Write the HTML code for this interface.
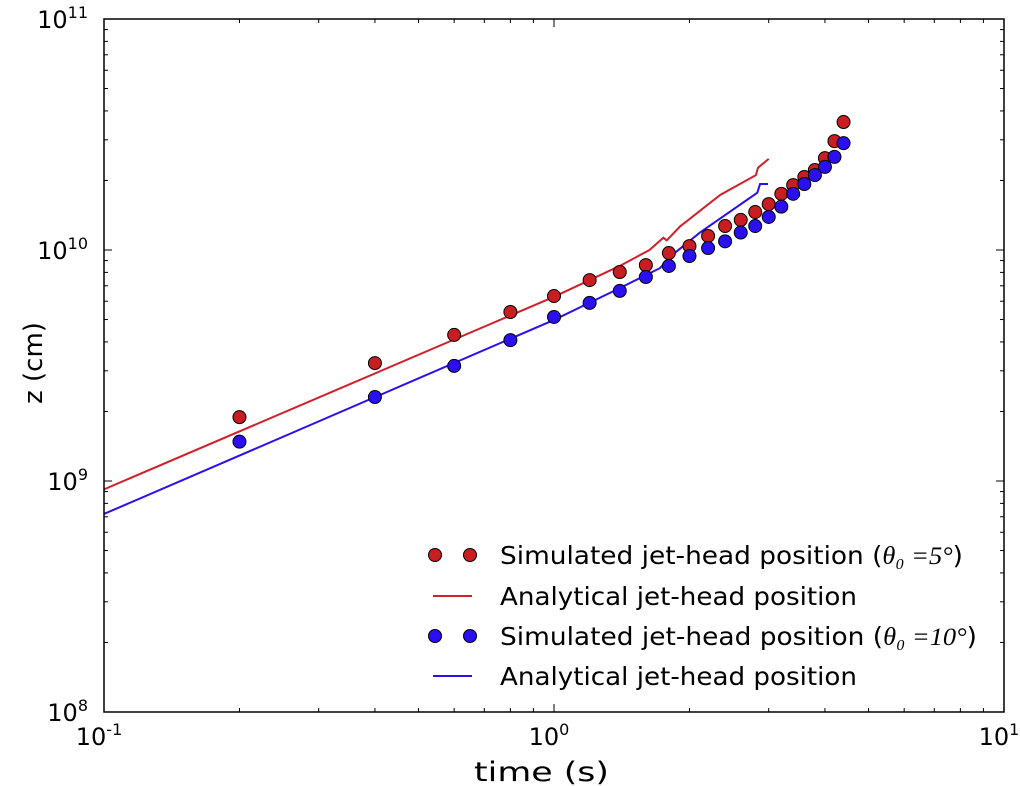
<!DOCTYPE html>
<html><head><meta charset="utf-8"><style>
body{margin:0;background:#fff}
svg{display:block;font-family:"DejaVu Sans","Liberation Sans",sans-serif}
</style></head><body>
<svg id="chart" width="1020" height="786" viewBox="0 0 1020 786" xmlns="http://www.w3.org/2000/svg"></svg>
<script>
const simT=[0.2,0.4,0.6,0.8,1.0,1.2,1.4,1.6,1.8,2.0,2.2,2.4,2.6,2.8,3.0,3.2,3.4,3.6,3.8,4.0,4.2,4.4];
const simRed=[1.89e9,3.24e9,4.29e9,5.39e9,6.32e9,7.41e9,8.03e9,8.6e9,9.7e9,1.04e10,1.15e10,1.27e10,1.35e10,1.46e10,1.58e10,1.75e10,1.91e10,2.07e10,2.22e10,2.5e10,2.96e10,3.58e10];
const simBlue=[1.48e9,2.31e9,3.15e9,4.07e9,5.13e9,5.9e9,6.65e9,7.64e9,8.53e9,9.42e9,1.02e10,1.09e10,1.19e10,1.27e10,1.39e10,1.54e10,1.75e10,1.93e10,2.11e10,2.29e10,2.53e10,2.9e10];
const anaRedT=[0.1,1.0,1.40,1.63,1.75,1.78,1.91,1.96,2.34,2.81,2.84,3.0];
const anaRedZ=[9.2e8,6.27e9,8.53e9,1.0e10,1.13e10,1.10e10,1.27e10,1.32e10,1.73e10,2.11e10,2.27e10,2.48e10];
const anaBlueT=[0.1,1.0,1.40,1.72,1.83,2.11,2.83,2.87,2.99];
const anaBlueZ=[7.2e8,4.98e9,6.84e9,8.35e9,9.5e9,1.19e10,1.77e10,1.93e10,1.93e10];
const xTickExp=[-1,0,1];
const yTickExp=[8,9,10,11];

const NS="http://www.w3.org/2000/svg";
const svg=document.getElementById('chart');
const L=104,R=1004,T=19,B=712;
const X=t=>L+(Math.log10(t)+1)/2*(R-L);
const Y=z=>B-(Math.log10(z)-8)/3*(B-T);
function mk(tag,attrs,parent){const e=document.createElementNS(NS,tag);for(const k in attrs)e.setAttribute(k,attrs[k]);(parent||svg).appendChild(e);return e;}

const ticks=mk('g',{stroke:'#000','stroke-width':1});


for(let d=-1;d<1;d++)for(let m=1;m<10;m++){const x=X(m*Math.pow(10,d));const len=m===1?8:4;
 mk('line',{x1:x,x2:x,y1:B,y2:B-len},ticks);mk('line',{x1:x,x2:x,y1:T,y2:T+len},ticks);}
for(let d=8;d<11;d++)for(let m=1;m<10;m++){const y=Y(m*Math.pow(10,d));const len=m===1?8:4;
 mk('line',{x1:L,x2:L+len,y1:y,y2:y},ticks);mk('line',{x1:R,x2:R-len,y1:y,y2:y},ticks);}

xTickExp.forEach(e=>{const t=mk('text',{x:X(Math.pow(10,e))-5,y:745,'font-size':24,'text-anchor':'middle'});
 
 t.textContent='10';const s=mk('tspan',{dy:-10,'font-size':16},t);s.textContent=String(e);});
yTickExp.forEach(e=>{const t=mk('text',{x:88,y:Y(Math.pow(10,e))+9,'font-size':24,'text-anchor':'end'});
 
 t.textContent='10';const s=mk('tspan',{dy:-10,'font-size':16},t);s.textContent=String(e);});

function line(ts,zs,col,name){const p=mk('polyline',{points:ts.map((t,i)=>X(t)+','+Y(zs[i])).join(' '),fill:'none',stroke:col,'stroke-width':2});
 }
line(anaRedT,anaRedZ,'#d0202a','analytical-line-5deg');
line(anaBlueT,anaBlueZ,'#2a10f0','analytical-line-10deg');
function pts(ts,zs,col,name){const g=mk('g',{});
 ts.forEach((t,i)=>{const c=mk('circle',{cx:X(t),cy:Y(zs[i]),r:6.5,fill:col,stroke:'#000','stroke-width':1},g);
 });}
pts(simT,simRed,'#c81e22','simulated-points-5deg');
pts(simT,simBlue,'#2a10f0','simulated-points-10deg');

const f=mk('rect',{x:L,y:T,width:R-L,height:B-T,fill:'none',stroke:'#000','stroke-width':1.5});


const xt=mk('text',{x:474,y:781,'font-size':27,textLength:135,lengthAdjust:'spacingAndGlyphs'});xt.textContent='time (s)';

const yt=mk('text',{x:0,y:0,'font-size':26,'text-anchor':'middle',transform:'translate(42,363) rotate(-90)'});yt.textContent='z (cm)';


const leg=mk('g',{});
const entries=[['pt','#c81e22','Simulated jet-head position (','θ₀ =5°',')',555,463],['ln','#d0202a','Analytical jet-head position','','',596,357],['pt','#2a10f0','Simulated jet-head position (','θ₀ =10°',')',636,477],['ln','#2a10f0','Analytical jet-head position','','',676,357]];
entries.forEach(en=>{const g=mk('g',{},leg);
 const y=en[5];
 if(en[0]==='pt'){[435,470].forEach(x=>mk('circle',{cx:x,cy:y,r:6.5,fill:en[1],stroke:'#000','stroke-width':1},g));}
 else mk('line',{x1:433,x2:472,y1:y,y2:y,stroke:en[1],'stroke-width':2},g);
 const t=mk('text',{x:500,y:y+9,'font-size':25,textLength:en[6],lengthAdjust:'spacingAndGlyphs'},g);t.textContent=en[2];
 if(en[3]){const s=mk('tspan',{'font-family':'"Liberation Serif",serif','font-style':'italic'},t);s.textContent=en[3];const s2=mk('tspan',{},t);s2.textContent=en[4];}
});
</script>
</body></html>
